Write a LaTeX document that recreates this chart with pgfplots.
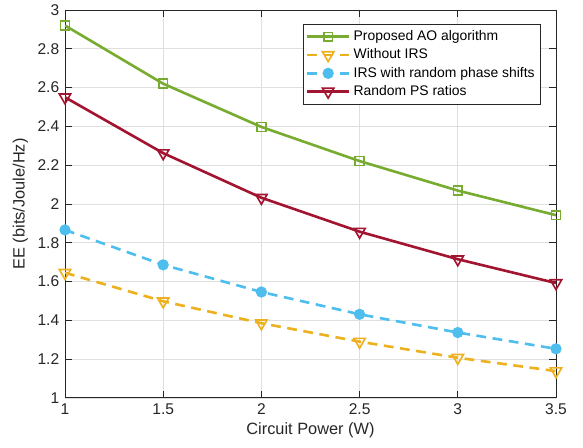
\documentclass[border=0pt]{standalone}
\usepackage{fontspec}
\setmainfont{Liberation Sans}
\usepackage{pgfplots}
\pgfplotsset{compat=1.18}
\definecolor{cgreen}{rgb}{0.466,0.674,0.188}
\definecolor{cyellow}{rgb}{0.929,0.694,0.125}
\definecolor{cblue}{rgb}{0.301,0.745,0.933}
\definecolor{cred}{rgb}{0.635,0.078,0.184}
\definecolor{axgray}{rgb}{0.15,0.15,0.15}
\begin{document}
\begin{tikzpicture}
\begin{axis}[
  name=ax,
  scale only axis,
  width=300pt, height=237pt,
  xmin=1, xmax=3.5, ymin=1, ymax=3,
  xtick={1,1.5,2,2.5,3,3.5},
  ytick={1,1.2,1.4,1.6,1.8,2,2.2,2.4,2.6,2.8,3},
  yticklabels={1,1.2,1.4,1.6,1.8,2,2.2,2.4,2.6,2.8,3},
  xticklabels={1,1.5,2,2.5,3,3.5},
  tick align=inside,
  major tick length=4pt,
  axis line style={axgray, line width=0.5pt},
  tick style={axgray, line width=0.5pt},
  grid=major,
  major grid style={gray!25, line width=0.4pt},
  tick label style={font=\fontsize{9.5}{11}\selectfont, text=axgray},
  label style={font=\fontsize{10}{12}\selectfont, text=axgray},
  xlabel={Circuit Power (W)},
  ylabel={EE (bits/Joule/Hz)},
  xlabel style={yshift=2pt},
  ylabel style={yshift=-1pt},
  legend style={at={(rel axis cs:1,1)}, anchor=north east, xshift=-9pt, yshift=-8.5pt,
    font=\fontsize{8.5}{10}\selectfont, draw=axgray, line width=0.5pt, inner sep=1.8pt, row sep=-0.5pt},
  legend cell align=left,
  legend image code/.code={
    \draw[mark repeat=2,mark phase=2] plot coordinates {(0cm,0cm) (0.45cm,0cm) (0.9cm,0cm)};
  },
]
\addplot[cgreen, line width=1.6pt, mark=square, mark size=2.7pt, mark options={solid, line width=1pt}]
  coordinates {(1,2.92) (1.5,2.62) (2,2.397) (2.5,2.221) (3,2.069) (3.5,1.942)};
\addlegendentry{Proposed AO algorithm}
\addplot[cyellow, line width=1.6pt, dash pattern=on 6pt off 4pt, mark=triangle, mark size=4pt, mark options={solid, rotate=180, line width=1pt}]
  coordinates {(1,1.645) (1.5,1.498) (2,1.385) (2.5,1.29) (3,1.207) (3.5,1.138)};
\addlegendentry{Without IRS}
\addplot[cblue, line width=1.6pt, dash pattern=on 6pt off 4pt, mark=*, mark size=2.6pt, mark options={solid, fill=cblue}]
  coordinates {(1,1.866) (1.5,1.686) (2,1.546) (2.5,1.431) (3,1.337) (3.5,1.253)};
\addlegendentry{IRS with random phase shifts}
\addplot[cred, line width=1.6pt, mark=triangle, mark size=4pt, mark options={solid, rotate=180, line width=1pt}]
  coordinates {(1,2.55) (1.5,2.262) (2,2.032) (2.5,1.857) (3,1.715) (3.5,1.592)};
\addlegendentry{Random PS ratios}
\end{axis}
\pgfresetboundingbox
\path ([shift={(-39.7pt,-30.5pt)}]ax.south west) rectangle ([shift={(16.5pt,6.1pt)}]ax.north east);
\end{tikzpicture}
\end{document}
